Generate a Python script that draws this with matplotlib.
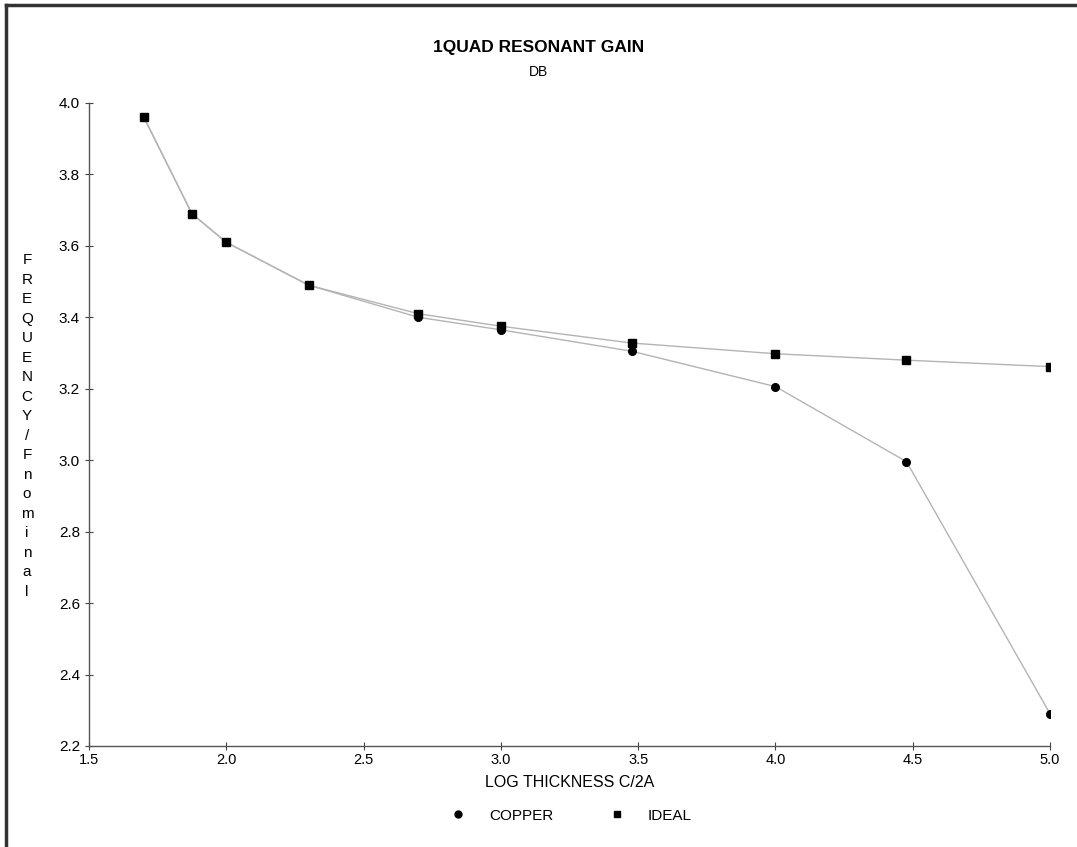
import matplotlib.pyplot as plt
from matplotlib.lines import Line2D

plt.rcParams["font.family"] = ["Liberation Sans", "DejaVu Sans"]

# log10 of thickness ratio
copper_x = [1.70, 1.875, 2.0, 2.30, 2.70, 3.0, 3.477, 4.0, 4.477, 5.0]
copper_y = [3.96, 3.69, 3.61, 3.49, 3.40, 3.365, 3.305, 3.206, 2.996, 2.29]
ideal_x = [1.70, 1.875, 2.0, 2.30, 2.70, 3.0, 3.477, 4.0, 4.477, 5.0]
ideal_y = [3.96, 3.69, 3.61, 3.49, 3.41, 3.375, 3.328, 3.298, 3.280, 3.262]

x_ticks = [1.5, 2.0, 2.5, 3.0, 3.5, 4.0, 4.5, 5.0]
y_ticks = [2.2, 2.4, 2.6, 2.8, 3.0, 3.2, 3.4, 3.6, 3.8, 4.0]

fig = plt.figure(figsize=(10.77, 8.47), dpi=100)
ax = fig.add_axes([0.0826, 0.1193, 0.8924, 0.7591])

line_kw = dict(color="#b4b4b4", linewidth=1.0)
ax.plot(copper_x, copper_y, marker="o", markersize=5.5, markerfacecolor="black",
        markeredgecolor="black", zorder=3, **line_kw)
ax.plot(ideal_x, ideal_y, marker="s", markersize=6, markerfacecolor="black",
        markeredgecolor="black", zorder=4, **line_kw)

ax.set_xlim(1.5, 5.0)
ax.set_ylim(2.2, 4.0)
ax.set_xticks(x_ticks)
ax.set_yticks(y_ticks)
ax.set_xticklabels([f"{v:.1f}" for v in x_ticks], fontsize=10.5)
ax.set_yticklabels([f"{v:.1f}" for v in y_ticks], fontsize=11)
ax.tick_params(direction="inout", length=6, width=0.8, color="#444444")
ax.tick_params(axis="x", pad=2)
for s in ["top", "right"]:
    ax.spines[s].set_visible(False)
for s in ["left", "bottom"]:
    ax.spines[s].set_color("#555555")
    ax.spines[s].set_linewidth(1.0)

ax.set_xlabel("LOG THICKNESS C/2A", fontsize=11.5, labelpad=6)

fig.text(0.5, 0.944, "1QUAD RESONANT GAIN", ha="center", va="center",
         fontsize=12.5, fontweight="bold")
fig.text(0.5, 0.915, "DB", ha="center", va="center", fontsize=10)

ylabel = "FREQUENCY/Fnominal"
fig.text(0.025, 0.497, "\n".join(ylabel), ha="center", va="center",
         fontsize=11, linespacing=1.5)

handles = [
    Line2D([], [], linestyle="none", marker="o", markersize=5, color="black"),
    Line2D([], [], linestyle="none", marker="s", markersize=4.5, color="black"),
]
fig.legend(handles, ["COPPER", "IDEAL"], loc="center", bbox_to_anchor=(0.527, 0.037),
           ncol=2, frameon=False, fontsize=11, columnspacing=3.2, handletextpad=1.0)

# page frame (left and top edges of the scanned box)
fig.add_artist(Line2D([0.0055, 0.0055], [0.0, 0.994], transform=fig.transFigure,
                      color="#333333", linewidth=2.5))
fig.add_artist(Line2D([0.0055, 1.0], [0.994, 0.994], transform=fig.transFigure,
                      color="#333333", linewidth=2.5))

fig.savefig("out.png", dpi=100)
